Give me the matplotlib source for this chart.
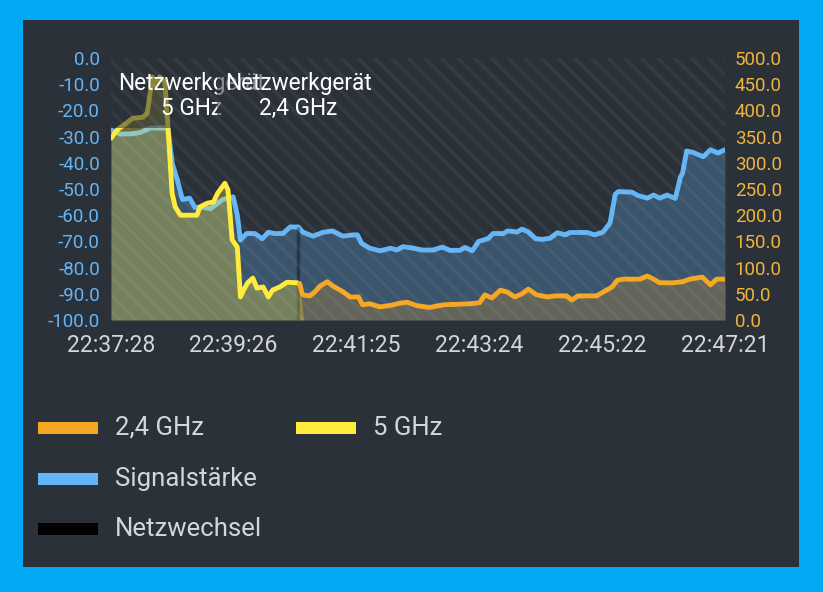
import matplotlib
matplotlib.use("Agg")
import matplotlib.pyplot as plt
from matplotlib.patches import Rectangle
from matplotlib.ticker import FuncFormatter

plt.rcParams['font.family'] = ['Roboto', 'DejaVu Sans']
plt.rcParams['hatch.linewidth'] = 2.5

# seconds since 22:37:28
sig_t = [0, 9, 18, 28, 38, 55, 59, 64, 69, 76, 81, 89, 96, 103, 108, 118, 122, 125, 131, 139,
         146, 152, 158, 166, 173, 181, 185, 195, 205, 214, 224, 234, 238, 242, 250, 260, 270, 276,
         282, 292, 301, 311, 320, 327, 337, 342, 349, 355, 364, 369, 379, 383, 392, 397, 403, 410,
         417, 424, 431, 439, 443, 460, 467, 475, 482, 487, 490, 503, 509, 518, 524, 530, 537, 545,
         550, 552, 556, 562, 572, 579, 586, 593]
sig_v = [-27.5, -29, -29, -28.5, -26.7, -26.7, -40, -46.5, -54, -53.5, -57, -57, -57.5, -55.5, -54,
         -53, -60, -69.5, -67, -67, -69, -66.5, -67, -67, -64.5, -64.5, -66.4, -68, -66.5, -66, -68,
         -67.5, -67.5, -70.7, -72.6, -73.6, -72.6, -73.3, -72, -72.6, -73.3, -73.3, -72.2, -73.4,
         -73.4, -72.3, -73.6, -70, -69, -67, -67, -66, -66.4, -65.3, -66.4, -69, -69.2, -68.8, -66.7,
         -67.5, -66.6, -66.6, -67.5, -66.5, -63, -52, -51, -51.2, -52.5, -53.5, -52.3, -53.5, -52.3,
         -53.6, -45.4, -44, -35.5, -36, -37.7, -35, -36.3, -35]

g5_t = [0, 6, 15, 21, 31, 35, 40, 42, 47, 52, 55, 59, 62, 67, 83, 86, 93, 99, 103, 110, 113, 117,
        122, 125, 128, 132, 137, 141, 147, 152, 156, 163, 170, 180, 182]
g5_v = [347, 363, 376, 385, 387, 395, 464, 448, 464, 455, 368, 242, 216, 200, 200, 216, 223, 225,
        242, 261, 248, 153, 139, 44, 57, 71, 80, 61, 63, 44, 57, 63, 72, 71, 68]

g24_t = [182, 185, 192, 197, 202, 209, 214, 224, 231, 239, 243, 250, 260, 270, 279, 286, 296, 308,
         321, 334, 347, 356, 361, 368, 376, 383, 390, 397, 403, 411, 421, 429, 440, 445, 451, 469,
         475, 484, 489, 495, 511, 518, 524, 530, 543, 552, 559, 571, 579, 585, 593]
g24_v = [70, 48, 46, 54, 65, 73, 65, 54, 44, 44, 29, 31, 25, 28, 32, 34, 27, 24, 29, 30, 31, 33, 48,
         42, 57, 53, 44, 50, 59, 48, 44, 46, 46, 38, 46, 46, 53, 63, 76, 78, 78, 84, 78, 71, 71, 73,
         78, 82, 67, 78, 78]

switch_t = 181
switch_top = -64.5

tick_t = [0, 118, 237, 356, 474, 593]
tick_labels = ['22:37:28', '22:39:26', '22:41:25', '22:43:24', '22:45:22', '22:47:21']

c_bg = '#2b3139'
c_blue = '#64b5f6'
c_yellow = '#ffeb3b'
c_orange = '#f5a623'
c_text = '#d3d6db'

fig = plt.figure(figsize=(8.23, 5.92), dpi=100, facecolor='#03a9f4')
fig.patches.append(Rectangle((23 / 823, 1 - 567 / 592), 776 / 823, 547 / 592,
                             transform=fig.transFigure, facecolor=c_bg, edgecolor='none', zorder=-5))

ax = fig.add_axes([111 / 823, 1 - 320 / 592, 614 / 823, 262 / 592])
ax.set_facecolor(c_bg)
ax2 = ax.twinx()

# signal strength (left axis)
ax.fill_between(sig_t, sig_v, -100, color=c_blue, alpha=0.27, lw=0)
ax.plot(sig_t, sig_v, color=c_blue, lw=3.5, solid_joinstyle='round', solid_capstyle='round')
ax.vlines(switch_t, -100, switch_top, color='black', alpha=0.35, lw=2.5)
ax.set_ylim(-100, 0)
ax.set_xlim(0, 593)

# throughput (right axis)
ax2.fill_between(g5_t + [186], g5_v + [0], 0, color=c_yellow, alpha=0.3, lw=0)
ax2.plot(g5_t, g5_v, color=c_yellow, lw=3.5, solid_joinstyle='round', solid_capstyle='round')
ax2.fill_between(g24_t, g24_v, 0, color=c_orange, alpha=0.22, lw=0)
ax2.plot(g24_t, g24_v, color=c_orange, lw=3.5, solid_joinstyle='round', solid_capstyle='round')
ax2.set_ylim(0, 500)

# diagonal stripes over plot area
ax2.add_patch(Rectangle((0, 0), 1, 1, transform=ax2.transAxes, facecolor='none',
                        edgecolor=(1, 1, 1, 0.05), hatch='\\\\', lw=0, zorder=7))

box = dict(boxstyle='square,pad=0.35', facecolor=c_bg, alpha=0.55, edgecolor='none')
ax2.text(78, 427, 'Netzwerkgerät\n5 GHz', ha='center', va='center', color='white',
         fontsize=16.3, linespacing=1.1, bbox=box, zorder=6)
ax2.text(181, 427, 'Netzwerkgerät\n2,4 GHz', ha='center', va='center', color='white',
         fontsize=16.3, linespacing=1.1, bbox=box, zorder=6)

for a in (ax, ax2):
    for s in a.spines.values():
        s.set_visible(False)

ax.set_yticks(range(-100, 1, 10))
ax.yaxis.set_major_formatter(FuncFormatter(lambda v, p: f'{v:.1f}'))
ax.tick_params(axis='y', length=0, pad=8, labelsize=13.5, labelcolor=c_blue)
ax.set_xticks(tick_t)
ax.set_xticklabels(tick_labels)
ax.tick_params(axis='x', length=0, pad=10, labelsize=16.5, labelcolor=c_text)

ax2.set_yticks(range(0, 501, 50))
ax2.yaxis.set_major_formatter(FuncFormatter(lambda v, p: f'{v:.1f}'))
ax2.tick_params(axis='y', length=0, pad=7, labelsize=13.5, labelcolor='#f0b43c')

# legend
legend_items = [('2,4 GHz', c_orange, 38, 428), ('5 GHz', c_yellow, 296, 428),
                ('Signalstärke', c_blue, 38, 479), ('Netzwechsel', 'black', 38, 529)]
for label, col, x, y in legend_items:
    fig.patches.append(Rectangle((x / 823, 1 - (y + 6) / 592), 60 / 823, 12 / 592,
                                 transform=fig.transFigure, facecolor=col, edgecolor='none'))
    fig.text((x + 77) / 823, 1 - y / 592, label, color=c_text, fontsize=18.5, va='center')

fig.savefig('out.png', dpi=100, facecolor=fig.get_facecolor())
